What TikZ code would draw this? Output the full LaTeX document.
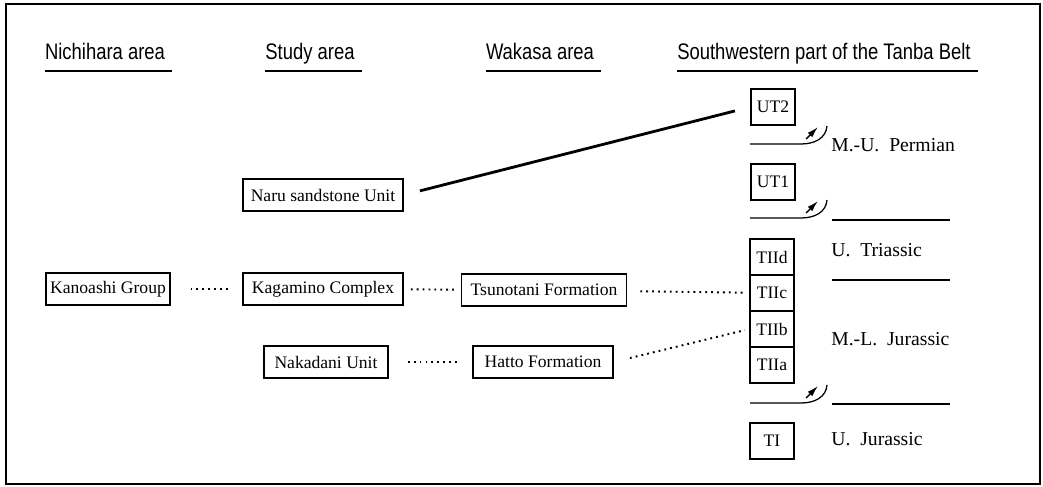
\documentclass[tikz,border=0pt]{standalone}
\usepackage{fontspec}
\setmainfont{Liberation Serif}
\newfontfamily\headfont[FakeStretch=0.82]{Liberation Sans}
\usetikzlibrary{arrows.meta}

\begin{document}
\begin{tikzpicture}[x=0.025cm, y=-0.025cm,
  rockbox/.style={draw, line width=0.8pt, font=\fontsize{12.5}{14}\selectfont, minimum height=0.8cm, inner sep=0pt},
  colbox/.style={draw, line width=0.8pt, font=\fontsize{12.5}{14}\selectfont, minimum width=1.1cm, minimum height=0.9cm, inner sep=0pt},
  head/.style={font=\headfont\fontsize{16}{18}\selectfont, inner sep=0pt, anchor=base},
  age/.style={font=\fontsize{14}{16}\selectfont, anchor=west, inner sep=0pt},
  corr/.style={line width=1.4pt, dash pattern=on 1.3pt off 2.9pt}]
\useasboundingbox (0,0) rectangle (1043,486);
\draw[line width=0.8pt] (6,4) rectangle (1040,484);

% headings
\node[head] (nich) at (105,60) {Nichihara area};
\node[head] (study) at (310,60) {Study area};
\node[head] (wakasa) at (540,60) {Wakasa area};
\node[head, anchor=base west] (tanba) at (677,60) {Southwestern part of the Tanba Belt};
\foreach \h in {nich,study,wakasa,tanba}
  \draw[line width=1.3pt] ([yshift=-8pt]\h.base west) -- ([yshift=-8pt, xshift=5pt]\h.base east);

% units of the areas
\node[rockbox, minimum width=3.1cm] (kanoashi) at (108,289) {Kanoashi Group};
\node[rockbox, minimum width=4cm] (naru) at (323,195) {Naru sandstone Unit};
\node[rockbox, minimum width=4cm] (kagamino) at (323,289) {Kagamino Complex};
\node[rockbox, minimum width=3.1cm] (nakadani) at (326,362) {Nakadani Unit};
\node[rockbox, minimum width=4.125cm] (tsunotani) at (544,290) {Tsunotani Formation};
\node[rockbox, minimum width=3.5cm] (hatto) at (543,362) {Hatto Formation};

% Tanba Belt column
\node[colbox] (ut2) at (773,107) {UT2};
\node[colbox] (ut1) at (773,182) {UT1};
\node[colbox] (tIId) at (772,257) {TIId};
\node[colbox] (tIIc) at (772,293) {TIIc};
\node[colbox] (tIIb) at (772,329) {TIIb};
\node[colbox] (tIIa) at (772,365) {TIIa};
\node[colbox] (tI) at (772,441) {TI};

% thrusts
\foreach \y in {144,218,403} {
  \draw[line width=0.9pt] (750,\y) -- (801,\y) .. controls (815,\y) and (826,{\y-6}) .. (827,{\y-18});
  \draw[line width=1pt, -{Latex[length=8pt, width=4.5pt]}] (806,{\y-5}) -- (818,{\y-17});
}

% ages
\foreach \y in {220,280,404} \draw[line width=0.9pt] (832,\y) -- (950,\y);
\node[age] (perm) at (831,145) {M.-U.\ \ Permian};
\node[age] (tria) at (831,250) {U.\ \ Triassic};
\node[age] (jura) at (831,339) {M.-L.\ \ Jurassic};
\node[age] (ujura) at (831,439) {U.\ \ Jurassic};

% correlations
\draw[line width=2pt, shorten <=0.42cm, shorten >=0.4cm] (naru.east) -- (ut2.west);
\draw[corr, shorten <=0.5cm, shorten >=0.28cm] (kanoashi) -- (kagamino);
\draw[corr, shorten <=0.18cm, shorten >=0.15cm] (kagamino) -- (tsunotani);
\draw[corr, shorten <=0.33cm, shorten >=0.12cm] (tsunotani) -- (tIIc);
\draw[corr, shorten <=0.48cm, shorten >=0.38cm] (nakadani) -- (hatto);
\draw[corr, shorten <=0.42cm, shorten >=0.12cm] (hatto.east) -- (tIIb.west);
\end{tikzpicture}
\end{document}
